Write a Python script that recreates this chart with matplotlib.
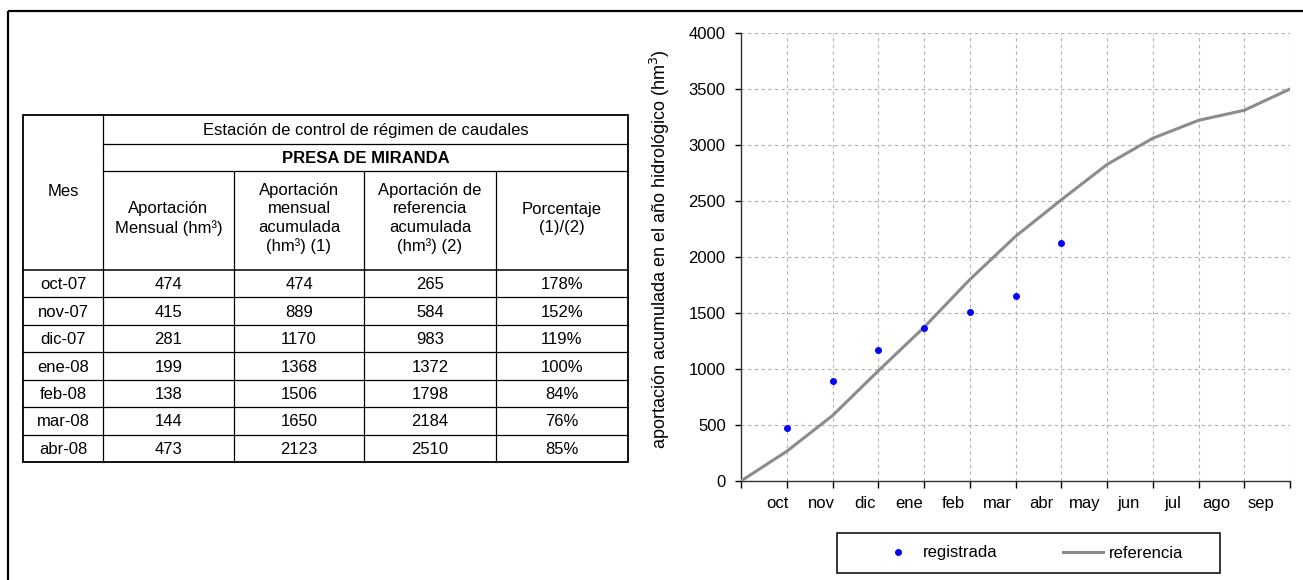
import numpy as np
import matplotlib
matplotlib.use("Agg")
import matplotlib.pyplot as plt
from matplotlib.patches import Rectangle

plt.rcParams['font.family'] = ['Liberation Sans', 'DejaVu Sans']

# ---------------- data ----------------
meses_tabla = ['oct-07', 'nov-07', 'dic-07', 'ene-08', 'feb-08', 'mar-08', 'abr-08']
aport_mensual = [474, 415, 281, 199, 138, 144, 473]
aport_acumulada = [474, 889, 1170, 1368, 1506, 1650, 2123]
ref_acumulada = [265, 584, 983, 1372, 1798, 2184, 2510]
porcentaje = [178, 152, 119, 100, 84, 76, 85]

meses_graf = ['oct', 'nov', 'dic', 'ene', 'feb', 'mar', 'abr', 'may', 'jun', 'jul', 'ago', 'sep']
curva_referencia = [0, 265, 584, 983, 1372, 1798, 2184, 2510, 2826, 3060, 3220, 3310, 3500]

titulo_estacion = 'Estación de control de régimen de caudales'
titulo_presa = 'PRESA DE MIRANDA'
cabeceras = ['Aportación\nMensual (hm³)',
             'Aportación\nmensual\nacumulada\n(hm³) (1)',
             'Aportación de\nreferencia\nacumulada\n(hm³) (2)',
             'Porcentaje\n(1)/(2)']

W, H = 1303, 580
fig = plt.figure(figsize=(W / 100, H / 100), dpi=100)
bg = fig.add_axes([0, 0, 1, 1])
bg.set_xlim(0, W)
bg.set_ylim(H, 0)
bg.axis('off')

FS = 12
# outer frame
bg.plot([8, W + 5], [11, 11], color='black', lw=1.6, solid_capstyle='butt')
bg.plot([8, 8], [11, H + 5], color='black', lw=1.6, solid_capstyle='butt')

# ---------------- table ----------------
cx = [23, 103, 234, 364, 496, 628]
y_top, y_r1, y_r2, y_r3, y_bot = 115, 144, 171, 270, 462
n = len(meses_tabla)
rh = (y_bot - y_r3) / n
lw_in = 0.9
bg.add_patch(Rectangle((cx[0], y_top), cx[-1] - cx[0], y_bot - y_top,
                       fill=False, lw=1.3, ec='black'))
bg.plot([cx[1], cx[1]], [y_top, y_bot], color='black', lw=lw_in)
bg.plot([cx[1], cx[-1]], [y_r1, y_r1], color='black', lw=lw_in)
bg.plot([cx[1], cx[-1]], [y_r2, y_r2], color='black', lw=lw_in)
for x in cx[2:-1]:
    bg.plot([x, x], [y_r2, y_bot], color='black', lw=lw_in)
bg.plot([cx[0], cx[-1]], [y_r3, y_r3], color='black', lw=1.1)
for i in range(1, n):
    y = y_r3 + i * rh
    bg.plot([cx[0], cx[-1]], [y, y], color='black', lw=lw_in)

bg.text((cx[1] + cx[-1]) / 2, (y_top + y_r1) / 2 + 1, titulo_estacion,
        ha='center', va='center', fontsize=FS)
bg.text((cx[1] + cx[-1]) / 2, (y_r1 + y_r2) / 2 + 1, titulo_presa,
        ha='center', va='center', fontsize=FS, fontweight='bold')
bg.text((cx[0] + cx[1]) / 2, 192, 'Mes',
        ha='center', va='center', fontsize=FS)
for j, h in enumerate(cabeceras):
    bg.text((cx[j + 1] + cx[j + 2]) / 2, (y_r2 + y_r3) / 2 - 2, h,
            ha='center', va='center', fontsize=FS, linespacing=1.28)

cols = [meses_tabla, aport_mensual, aport_acumulada, ref_acumulada,
        [f'{p}%' for p in porcentaje]]
for j, col in enumerate(cols):
    for i, v in enumerate(col):
        bg.text((cx[j] + cx[j + 1]) / 2, y_r3 + (i + 0.5) * rh + 1, str(v),
                ha='center', va='center', fontsize=FS)

# ---------------- chart ----------------
x0, x1, yt, yb = 741, 1290, 33, 481
ax = fig.add_axes([x0 / W, 1 - yb / H, (x1 - x0) / W, (yb - yt) / H])
ax.set_facecolor('none')
xm = np.arange(len(curva_referencia))
ax.plot(xm, curva_referencia, color='#8c8c8c', lw=2.2, label='referencia', zorder=3)
xr = np.arange(1, len(aport_acumulada) + 1)
ax.plot(xr, aport_acumulada, ls='none', marker='o', ms=4, color='#0000ff',
        label='registrada', zorder=4)

ax.set_xlim(0, 12)
ax.set_ylim(0, 4000)
ax.set_yticks(np.arange(0, 4001, 500))
ax.set_xticks(np.arange(0, 13))
ax.set_xticklabels([])
ax.set_xticks(np.arange(12) * 0.96 + 0.8, minor=True)
ax.set_xticklabels(meses_graf, minor=True, fontsize=FS)
ax.tick_params(axis='x', which='minor', length=0, pad=11)
ax.tick_params(axis='x', which='major', length=5, width=1, direction='out')
ax.tick_params(axis='y', length=4, width=1, labelsize=FS, pad=7)
for s in ['top', 'right']:
    ax.spines[s].set_visible(False)
for s in ['left', 'bottom']:
    ax.spines[s].set_color('#333333')
    ax.spines[s].set_linewidth(1.0)
ax.grid(True, which='major', color='#b0b0b0', ls=(0, (3, 3)), lw=0.8)
ax.set_axisbelow(True)
ax.set_ylabel('aportación acumulada en el año hidrológico (hm$^3$)', fontsize=13)
ax.yaxis.set_label_coords(-0.126, 0.517)

# legend
bg.add_patch(Rectangle((837, 533), 1220 - 837, 573 - 533, fill=False, lw=1.1, ec='black'))
h, l = ax.get_legend_handles_labels()
leg = fig.legend([h[1], h[0]], [l[1], l[0]], loc='center',
                 bbox_to_anchor=(1030 / W, 1 - 553 / H), ncol=2, frameon=False,
                 fontsize=FS, handlelength=2.45, handletextpad=0.3, columnspacing=3.9)

fig.savefig('out.png', dpi=100)
